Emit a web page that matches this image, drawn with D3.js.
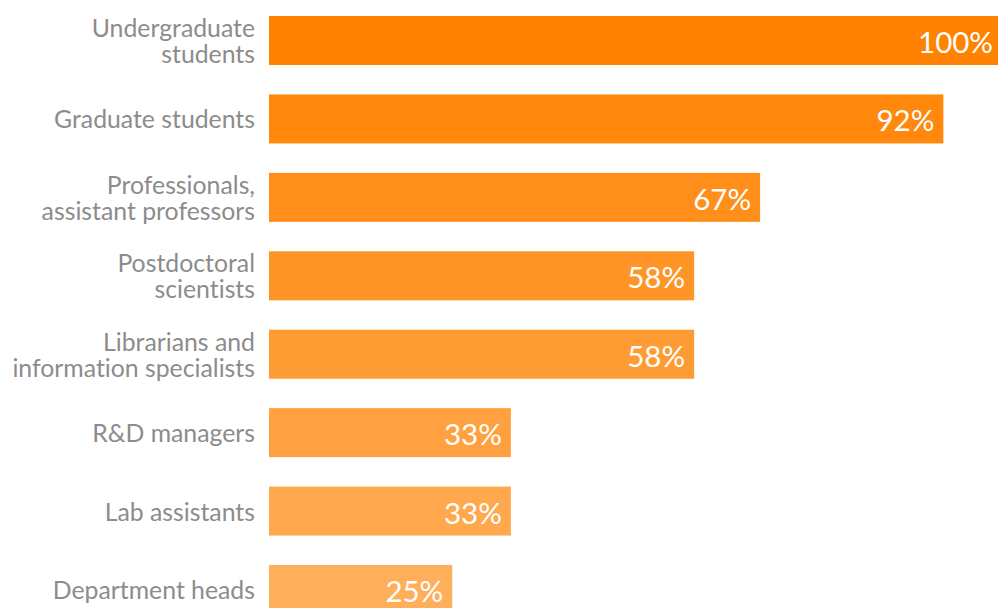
<!DOCTYPE html>
<html>
<head>
<meta charset="utf-8">
<script src="https://cdn.jsdelivr.net/npm/d3@7"></script>
<style>
  html, body { margin: 0; padding: 0; background: #ffffff; }
  svg { display: block; }
  text { font-variant-ligatures: none; font-feature-settings: "liga" 0; }
</style>
</head>
<body>
<svg id="chart" width="998" height="608"></svg>
<script>
// Share of respondents by role
const categories = [
  ["Undergraduate", "students"],
  ["Graduate students"],
  ["Professionals,", "assistant professors"],
  ["Postdoctoral", "scientists"],
  ["Librarians and", "information specialists"],
  ["R&D managers"],
  ["Lab assistants"],
  ["Department heads"]
];
const values = [100, 92, 67, 58, 58, 33, 33, 25];
const valueLabels = ["100%", "92%", "67%", "58%", "58%", "33%", "33%", "25%"];

const svg = d3.select("#chart");
const keys = categories.map((c, i) => i);

const x = d3.scaleLinear().domain([0, 100]).range([269, 1002]);
const y = d3.scaleBand().domain(keys).range([16, 614]).paddingInner(0.375).paddingOuter(0);

// bars fade from deep orange at the top to a lighter orange at the bottom
const colour = d3.scaleLinear()
  .domain([0, keys.length - 1])
  .range(["#ff8200", "#ffae5a"])
  .interpolate(d3.interpolateRgb);

svg.append("g").selectAll("rect")
  .data(keys)
  .join("rect")
  .attr("x", x(0))
  .attr("y", i => y(i))
  .attr("width", i => x(values[i]) - x(0))
  .attr("height", y.bandwidth())
  .attr("fill", i => colour(i));

// value labels inside the bar ends
svg.append("g").selectAll("text")
  .data(keys)
  .join("text")
  .attr("x", i => x(values[i]) - 9)
  .attr("y", i => y(i) + y.bandwidth() / 2 + 12.5)
  .attr("text-anchor", "end")
  .attr("fill", "#ffffff")
  .style("font-family", "Lato, 'Open Sans', sans-serif")
  .style("font-weight", 400)
  .style("font-size", "29.5px")
  .text(i => valueLabels[i]);

// category labels, right-aligned against the bars
const lineH = 26;
const labels = svg.append("g").selectAll("text")
  .data(keys)
  .join("text")
  .attr("text-anchor", "end")
  .attr("fill", "#8c8c8c")
  .style("font-family", "Lato, 'Open Sans', sans-serif")
  .style("font-size", "24.8px")
  .attr("y", i => y(i) + y.bandwidth() / 2 + 9.5 - (categories[i].length - 1) * lineH / 2);

labels.selectAll("tspan")
  .data(i => categories[i])
  .join("tspan")
  .attr("x", 255)
  .attr("dy", (d, j) => j === 0 ? 0 : lineH)
  .text(d => d);
</script>
</body>
</html>
